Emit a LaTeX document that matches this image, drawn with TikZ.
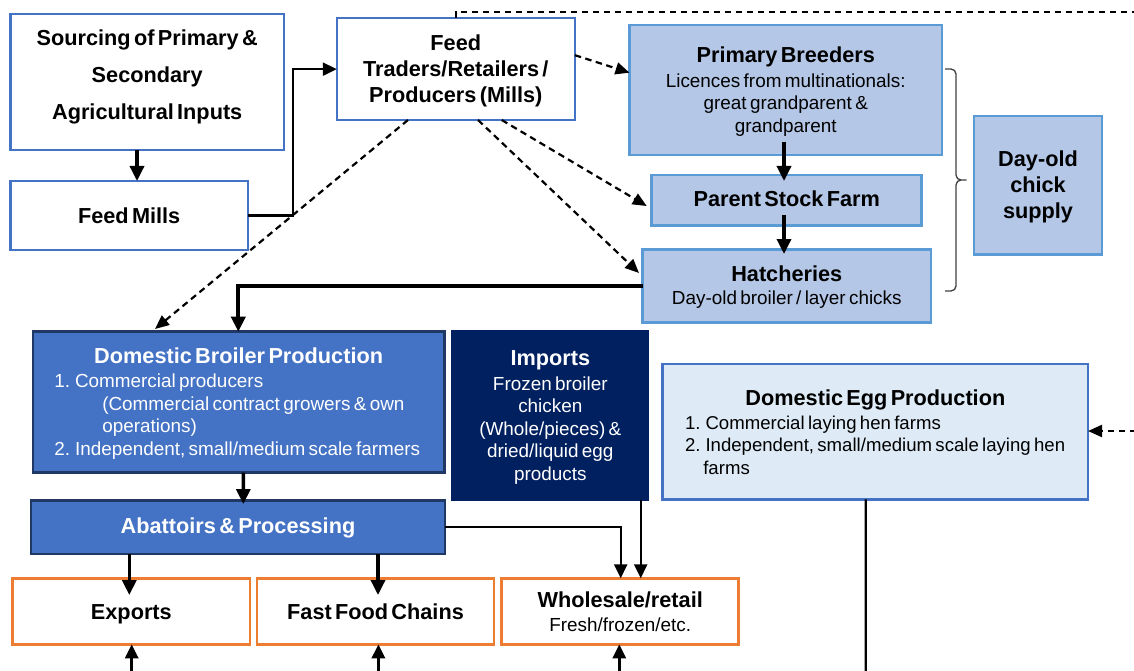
\documentclass[tikz,border=0pt]{standalone}
\usepackage{fontspec}
\setmainfont{Liberation Sans}
\usetikzlibrary{arrows.meta}
\definecolor{bord}{HTML}{4472C4}
\definecolor{lbfill}{HTML}{B4C7E7}
\definecolor{lbbord}{HTML}{5B9BD5}
\definecolor{egfill}{HTML}{DEEBF7}
\definecolor{navyc}{HTML}{002060}
\definecolor{dkbord}{HTML}{203864}
\definecolor{orng}{HTML}{ED7D31}
\definecolor{bracec}{HTML}{404040}
\newcommand\tfont{\fontsize{21.7}{26}\selectfont\bfseries}
\newcommand\bfont{\fontsize{18.9}{22.5}\selectfont\mdseries}
\newcommand\efont{\fontsize{18.6}{22.4}\selectfont\mdseries}
\begin{document}
\begin{tikzpicture}[x=1pt,y=-1pt,
  box/.style={draw, rectangle, inner sep=0pt, outer sep=0pt, align=center},
  wbox/.style={box, draw=bord, line width=2.3pt, fill=white},
  lbox/.style={box, draw=lbbord, line width=2.5pt, fill=lbfill},
  dbox/.style={box, draw=dkbord, line width=2.5pt, fill=bord, text=white},
  nbox/.style={box, draw=navyc, line width=2.5pt, fill=navyc, text=white},
  ebox/.style={box, draw=bord, line width=2.5pt, fill=egfill},
  obox/.style={box, draw=orng, line width=2.5pt, fill=white},
  arr/.style={line width=3.4pt, -{Triangle[length=15pt,width=14pt]}},
  tarr/.style={line width=2.2pt, -{Triangle[length=14pt,width=13pt]}},
  uarr/.style={line width=3pt, -{Triangle[length=14pt,width=13pt]}},
  dsh/.style={line width=2.2pt, dash pattern=on 6.5pt off 4.5pt},
  darr/.style={dsh, -{Triangle[length=14pt,width=12pt]}},
  bracestyle/.style={draw=bracec, line width=1.3pt}
]
\useasboundingbox (0,0) rectangle (1134,671);

% ---------- boxes ----------
\node[wbox, minimum width=273.7pt, minimum height=135.4pt, text width=260pt, text height=0pt, text depth=72pt] (src) at (147.2,82)
  {\fontsize{21.7}{36.7}\selectfont\bfseries Sourcing of Primary \&\par Secondary\par Agricultural Inputs\par};
\node[wbox, minimum width=237.7pt, minimum height=69pt, text width=200pt, text height=15.6pt, text depth=0pt] (mills) at (129.2,215.5)
  {\tfont Feed Mills\par};
\node[wbox, minimum width=238pt, minimum height=101.7pt, text width=220pt, text height=0pt, text depth=36.9pt] (trad) at (455.8,69.15)
  {\tfont Feed\par Traders/Retailers /\par Producers (Mills)\par};
\node[lbox, minimum width=312.5pt, minimum height=130pt, text width=300pt, text height=0pt, text depth=54.6pt] (pb) at (785.75,90)
  {{\tfont Primary Breeders\par}\vspace{2pt}{\bfont Licences from multinationals:\par great grandparent \&\par grandparent\par}};
\node[lbox, minimum width=270pt, minimum height=50.7pt, text width=260pt, text height=12.7pt, text depth=0pt] (psf) at (786.7,200.35)
  {\tfont Parent Stock Farm\par};
\node[lbox, minimum width=288.5pt, minimum height=73.4pt, text width=280pt, text height=0pt, text depth=10pt] (hat) at (786.75,286)
  {{\tfont Hatcheries\par}\vspace{0.5pt}{\bfont Day-old broiler / layer chicks\par}};
\node[lbox, minimum width=128pt, minimum height=138.7pt, text width=120pt, text height=0pt, text depth=37.3pt] (doc) at (1038,185.35)
  {\tfont Day-old\par chick\par supply\par};
\node[dbox, minimum width=411.7pt, minimum height=141pt, text width=368.7pt, align=left, text height=0pt, text depth=77.8pt] (dbp) at (238.65,402.2)
  {{\centering\tfont Domestic Broiler Production\par}\vspace{1.9pt}%
   \bfont\mbox{1. Commercial producers}\par
   \mbox{\hspace*{48pt}\makebox[319.7pt][s]{(Commercial contract growers \& own}}\par
   \mbox{\hspace*{48pt}operations)}\par
   \mbox{2. Independent, small/medium scale farmers}\par};
\node[nbox, minimum width=195.4pt, minimum height=168.3pt, text width=190pt, text height=0pt, text depth=101.7pt] (imp) at (550.3,415.85)
  {{\tfont Imports\par}\vspace{2.5pt}{\bfont Frozen broiler\par chicken\par (Whole/pieces) \&\par dried/liquid egg\par products\par}};
\node[ebox, minimum width=425.3pt, minimum height=135.3pt, text width=380.7pt, align=left, text height=0pt, text depth=53.3pt] (egg) at (875.35,431.65)
  {{\centering\tfont Domestic Egg Production\par}\vspace{1.9pt}%
   \efont\mbox{1. Commercial laying hen farms}\par
   \mbox{2. Independent, small/medium scale laying hen}\par
   \mbox{\hspace*{18.3pt}farms}\par};
\node[dbox, minimum width=414pt, minimum height=53.3pt, text width=400pt, text height=11.9pt, text depth=0pt] (aba) at (238,527.35)
  {\tfont Abattoirs \& Processing\par};
\node[obox, minimum width=237.3pt, minimum height=66pt, text width=220pt, text height=15.4pt, text depth=0pt] (exp) at (131.35,611.3)
  {\tfont Exports\par};
\node[obox, minimum width=237pt, minimum height=66pt, text width=220pt, text height=15.4pt, text depth=0pt] (ff) at (375.5,611.3)
  {\tfont Fast Food Chains\par};
\node[obox, minimum width=237pt, minimum height=66pt, text width=230pt, text height=0pt, text depth=8pt] (ws) at (620.2,611.3)
  {{\tfont Wholesale/retail\par}\vspace{1.9pt}{\bfont Fresh/frozen/etc.\par}};

% ---------- free ends ----------
\coordinate (topR) at (1136,12.3);
\coordinate (eggR) at (1136,431);
\coordinate (eggB) at (865.7,672);
\coordinate (bE) at (131.7,672);
\coordinate (bF) at (378.4,672);
\coordinate (bW) at (619.3,672);

% ---------- connectors ----------
\draw[arr] ([xshift=-10.2pt]src.south) -- ([xshift=-10.2pt]src.south |- mills.north);
\draw[tarr] (mills.east) -- ++(44.8,0) |- (trad.west);
\draw[dsh] (trad.north) -- ++(0,-6) -- (topR);
\draw[darr] ([yshift=14pt]trad.east) -- ([yshift=17.3pt]pb.west);
\draw[darr] ([xshift=45.9pt]trad.south) -- ([xshift=-5pt,yshift=-5.65pt]psf.west);
\draw[darr] ([xshift=22.2pt]trad.south) -- ([xshift=-3.5pt,yshift=13pt]hat.west);
\draw[darr] ([xshift=-47.8pt]trad.south) -- ([xshift=-83.65pt,yshift=2.7pt]dbp.north);
\draw[arr] ([xshift=-1.75pt,yshift=13.3pt]pb.south) -- ([xshift=-2.7pt,yshift=-6pt]psf.north);
\draw[arr] ([xshift=-2.7pt,yshift=10.7pt]psf.south) -- ([xshift=-2.75pt,yshift=-4.7pt]hat.north);
\draw[arr, line width=3.8pt] (hat.west) -| ([xshift=-0.35pt]dbp.north);
\draw[arr] ([xshift=4.65pt]dbp.south) -- ([xshift=5.3pt,yshift=-3.3pt]aba.north);
\draw[arr] ([xshift=-2.05pt]exp.north |- aba.south) -- ([xshift=-2.05pt,yshift=-16.7pt]exp.north);
\draw[arr] ([xshift=2.5pt]ff.north |- aba.south) -- ([xshift=2.5pt,yshift=-16.7pt]ff.north);
\draw[tarr] (aba.east) -| ([xshift=0.5pt]ws.north);
\draw[tarr] ([xshift=20.5pt]ws.north |- imp.south) -- ([xshift=20.5pt]ws.north);
\draw[line width=2.3pt] ([xshift=-9.65pt]egg.south) -- (eggB);
\draw[darr] (eggR) -- (eggR -| egg.east);
\draw[uarr] (bE) -- (bE |- exp.south);
\draw[uarr] (bF) -- (bF |- ff.south);
\draw[uarr] (bW) -- (bW |- ws.south);

% ---------- brace ----------
\draw[bracestyle] (945,69) -- (951,69) to[out=0,in=90] (956,74) -- (956,175) to[out=-90,in=180] (961,180) -- (966.7,180);
\draw[bracestyle] (961,180) to[out=180,in=90] (956,185) -- (956,286) to[out=-90,in=0] (951,291) -- (945,291);
\end{tikzpicture}
\end{document}
